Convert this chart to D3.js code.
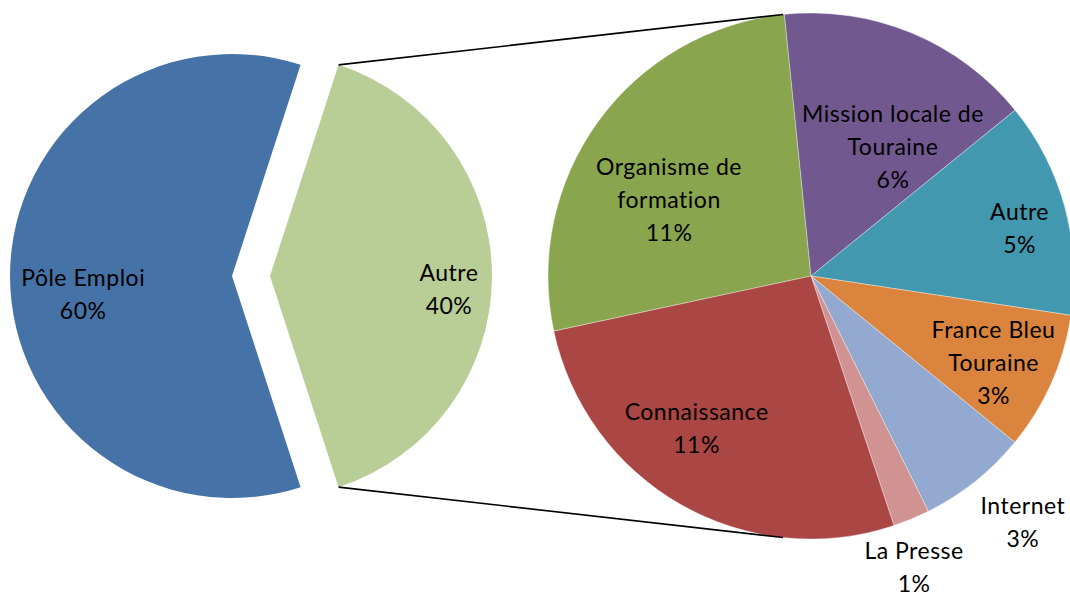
<!DOCTYPE html>
<html>
<head>
<meta charset="utf-8">
<script src="https://cdn.jsdelivr.net/npm/d3@7"></script>
<style>
  html, body { margin: 0; padding: 0; background: #fff; }
  svg text { font-family: Lato, "Open Sans", sans-serif; font-size: 23px; letter-spacing: 0.5px; fill: #000; }
</style>
</head>
<body>
<svg id="chart" width="1070" height="596"></svg>
<script>
// main pie
const mainNames = ["Pôle Emploi", "Autre"];
const mainValues = [60, 40];
const mainColors = ["#4572A7", "#B9CD96"];

// breakdown of "Autre" (percent of total)
const subNames = ["Organisme de formation", "Mission locale de Touraine", "Autre",
                  "France Bleu Touraine", "Internet", "La Presse", "Connaissance"];
const subValues = [10.7, 6.3, 5.3, 3.4, 2.7, 0.9, 10.7];
const subColors = ["#89A54E", "#71588F", "#4198AF", "#DB843D", "#93A9CF", "#D19392", "#AA4643"];

// label text lines (Excel wraps them like this)
const mainLines = [["Pôle Emploi"], ["Autre"]];
const subLines = [["Organisme de", "formation"], ["Mission locale de", "Touraine"], ["Autre"],
                  ["France Bleu", "Touraine"], ["Internet"], ["La Presse"], ["Connaissance"]];

const svg = d3.select("#chart");
const rad = d => d * Math.PI / 180;
const fmt = v => Math.round(v) + "%";
const lineH = 33;

// layout
const left = { cx: 232, cy: 276, r: 222, explode: 38 };
const right = { cx: 811, cy: 276, r: 263 };

// label placement tweaks: [angle shift in deg, distance as fraction of radius]
const mainLabelPos = [[-6.7, 0.675], [4, 0.808]];
const subLabelPos = [[-7.6, 0.614], [9.7, 0.584], [2.2, 0.814], [1.3, 0.767],
                     [-2.2, 1.232], [2.9, 1.171], [7.3, 0.722]];

function drawLabel(g, cx, cy, r, d, lines, value, pos) {
  const mid = (d.startAngle + d.endAngle) / 2 + rad(pos[0]);
  const dist = r * pos[1];
  const x = cx + dist * Math.sin(mid);
  const y = cy - dist * Math.cos(mid);
  const all = lines.concat([fmt(value)]);
  const t = g.append("text").attr("text-anchor", "middle");
  all.forEach((s, i) => {
    t.append("tspan")
      .attr("x", x)
      .attr("y", y + (i - (all.length - 1) / 2) * lineH)
      .attr("dominant-baseline", "central")
      .text(s);
  });
}

// ---- left pie ----
const mainStart = rad(162);
const mainPie = d3.pie().sort(null).startAngle(mainStart).endAngle(mainStart + 2 * Math.PI);
const mainArcs = mainPie(mainValues);
const mainArc = d3.arc().innerRadius(0).outerRadius(left.r);

const leftG = svg.append("g");
mainArcs.forEach((d, i) => {
  const mid = (d.startAngle + d.endAngle) / 2;
  const off = i === 1 ? left.explode : 0;
  const cx = left.cx + off * Math.sin(mid);
  const cy = left.cy - off * Math.cos(mid);
  d.cx = cx; d.cy = cy;
  leftG.append("path")
    .attr("transform", `translate(${cx},${cy})`)
    .attr("d", mainArc(d))
    .attr("fill", mainColors[i]);
});

// ---- right pie ----
const subStart = rad(257.9);
const subPie = d3.pie().sort(null).startAngle(subStart).endAngle(subStart + 2 * Math.PI);
const subArcs = subPie(subValues);
const subArc = d3.arc().innerRadius(0).outerRadius(right.r);

const rightG = svg.append("g").attr("transform", `translate(${right.cx},${right.cy})`);
rightG.selectAll("path")
  .data(subArcs)
  .enter().append("path")
  .attr("d", subArc)
  .attr("fill", (d, i) => subColors[i])
  .attr("stroke", "#fff")
  .attr("stroke-opacity", 0.6)
  .attr("stroke-width", 0.6);

// ---- connector lines ----
const other = mainArcs[1];
const pt = (cx, cy, r, a) => [cx + r * Math.sin(a), cy - r * Math.cos(a)];
const topA = pt(other.cx, other.cy, left.r, other.startAngle);
const botA = pt(other.cx, other.cy, left.r, other.endAngle);
const topB = pt(right.cx, right.cy, right.r, rad(-6.1));
const botB = pt(right.cx, right.cy, right.r, rad(186.1));
svg.append("g").selectAll("line")
  .data([[topA, topB], [botA, botB]])
  .enter().append("line")
  .attr("x1", d => d[0][0]).attr("y1", d => d[0][1])
  .attr("x2", d => d[1][0]).attr("y2", d => d[1][1])
  .attr("stroke", "#000")
  .attr("stroke-width", 1.6);

// ---- labels ----
const labels = svg.append("g");
mainArcs.forEach((d, i) => drawLabel(labels, d.cx, d.cy, left.r, d, mainLines[i], mainValues[i], mainLabelPos[i]));
subArcs.forEach((d, i) => drawLabel(labels, right.cx, right.cy, right.r, d, subLines[i], subValues[i], subLabelPos[i]));
</script>
</body>
</html>
